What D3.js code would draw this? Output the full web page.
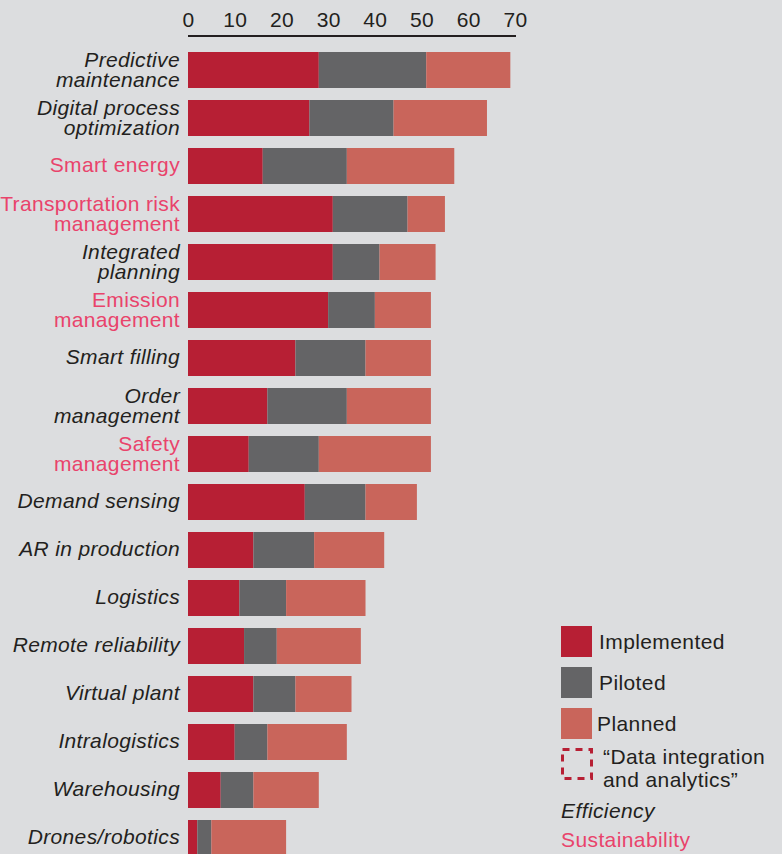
<!DOCTYPE html>
<meta charset="utf-8">
<style>
body { margin: 0; background: #dcdddf; }
svg { display: block; font-family: "Liberation Sans", Arial, Helvetica, sans-serif; }
.axis path { stroke: #231f20; stroke-width: 2px; }
.axis text { font-size: 21px; fill: #231f20; letter-spacing: 0.3px; }
.lbl { font-size: 21px; letter-spacing: 0.35px; }
.legend text { font-size: 21px; fill: #231f20; letter-spacing: 0.4px; }
</style>
<body>
<script src="https://cdn.jsdelivr.net/npm/d3@7"></script>
<script>

// categories, top to bottom (lines split for the two-line labels)
var categories = [
  ["Predictive", "maintenance"],
  ["Digital process", "optimization"],
  ["Smart energy"],
  ["Transportation risk", "management"],
  ["Integrated", "planning"],
  ["Emission", "management"],
  ["Smart filling"],
  ["Order", "management"],
  ["Safety", "management"],
  ["Demand sensing"],
  ["AR in production"],
  ["Logistics"],
  ["Remote reliability"],
  ["Virtual plant"],
  ["Intralogistics"],
  ["Warehousing"],
  ["Drones/robotics"]
];

// which kind of use case each one is
var kind = ["eff", "eff", "sus", "sus", "eff", "sus", "eff", "eff", "sus",
            "eff", "eff", "eff", "eff", "eff", "eff", "eff", "eff"];

// series values
var implemented = [28, 26, 16, 31, 31, 30, 23, 17, 13, 25, 14, 11, 12, 14, 10, 7, 2];
var piloted     = [23, 18, 18, 16, 10, 10, 15, 17, 15, 13, 13, 10,  7,  9,  7, 7, 3];
var planned     = [18, 20, 23,  8, 12, 12, 14, 18, 24, 11, 15, 17, 18, 12, 17, 14, 16];

var seriesNames = ["Implemented", "Piloted", "Planned"];
var tickValues = [0, 10, 20, 30, 40, 50, 60, 70];

var colors = { Implemented: "#b71f34", Piloted: "#646466", Planned: "#c9655b" };
var textColors = { eff: "#231f20", sus: "#e9436b" };

var width = 782, height = 854;

var svg = d3.select("body").append("svg")
    .attr("width", width)
    .attr("height", height);

var rows = categories.map(function(c, i) {
  return { id: i, label: c, kind: kind[i],
           Implemented: implemented[i], Piloted: piloted[i], Planned: planned[i] };
});

var x = d3.scaleLinear().domain([0, 70]).range([188, 515]);
var y = d3.scaleBand()
    .domain(rows.map(function(d) { return d.id; }))
    .range([46, 862])
    .paddingInner(0.25)
    .paddingOuter(0.125);

var stacked = d3.stack().keys(seriesNames)(rows);

// bars
svg.append("g").selectAll("g")
    .data(stacked)
  .enter().append("g")
    .attr("fill", function(s) { return colors[s.key]; })
  .selectAll("rect")
    .data(function(s) { return s; })
  .enter().append("rect")
    .attr("x", function(d) { return x(d[0]); })
    .attr("width", function(d) { return x(d[1]) - x(d[0]); })
    .attr("y", function(d) { return y(d.data.id); })
    .attr("height", y.bandwidth());

// top axis
svg.append("g")
    .attr("class", "axis")
    .attr("transform", "translate(0,36)")
    .call(d3.axisTop(x).tickValues(tickValues).tickSize(0).tickPadding(9))
    .call(function(g) { g.select(".domain").attr("d", "M188,0H516"); });

// category labels, one text per line
var lines = [];
rows.forEach(function(d) {
  var c = y(d.id) + y.bandwidth() / 2;
  d.label.forEach(function(t, i) {
    var base = d.label.length > 1 ? c - 3 + i * 20 : c + 6;
    lines.push({ text: t, y: base, kind: d.kind });
  });
});

svg.append("g").selectAll("text")
    .data(lines)
  .enter().append("text")
    .attr("class", "lbl")
    .attr("text-anchor", "end")
    .attr("x", 180)
    .attr("y", function(d) { return d.y; })
    .attr("fill", function(d) { return textColors[d.kind]; })
    .style("font-style", function(d) { return d.kind == "eff" ? "italic" : "normal"; })
    .text(function(d) { return d.text; });

// legend
var legend = svg.append("g").attr("class", "legend");

seriesNames.forEach(function(name, i) {
  legend.append("rect")
      .attr("x", 561).attr("y", 626 + i * 41)
      .attr("width", 31).attr("height", 31)
      .attr("fill", colors[name]);
  legend.append("text")
      .attr("x", name == "Planned" ? 597 : 599)
      .attr("y", 649 + i * 41)
      .text(name);
});

legend.append("rect")
    .attr("x", 562.5).attr("y", 749.5)
    .attr("width", 29).attr("height", 29)
    .attr("fill", "none")
    .attr("stroke", colors.Implemented)
    .attr("stroke-width", 3)
    .attr("stroke-dasharray", "7,6");

legend.append("text").attr("x", 603).attr("y", 764).text("\u201cData integration");
legend.append("text").attr("x", 603).attr("y", 787).text("and analytics\u201d");

legend.append("text")
    .attr("x", 561).attr("y", 818)
    .style("font-style", "italic")
    .text("Efficiency");
legend.append("text")
    .attr("x", 561).attr("y", 847)
    .style("fill", textColors.sus)
    .text("Sustainability");

</script>
</body>
